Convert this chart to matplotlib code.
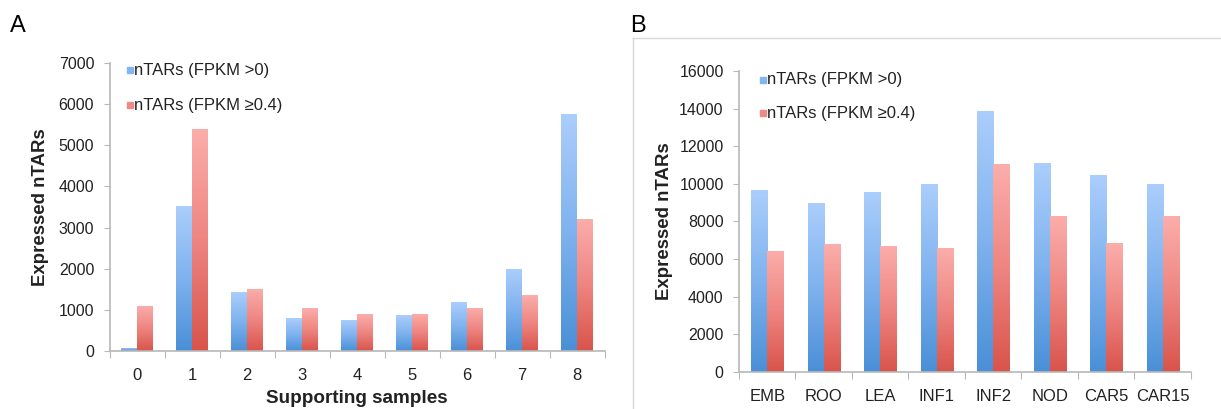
import matplotlib
matplotlib.use("Agg")
import matplotlib.pyplot as plt
import numpy as np
from matplotlib.colors import LinearSegmentedColormap
from matplotlib.lines import Line2D

plt.rcParams["font.family"] = ["Liberation Sans", "DejaVu Sans"]

# Panel A: expressed nTARs by number of supporting samples
samples = ["0", "1", "2", "3", "4", "5", "6", "7", "8"]
a_fpkm_gt0 = [80, 3520, 1440, 800, 760, 870, 1180, 2000, 5760]
a_fpkm_ge04 = [1100, 5400, 1510, 1040, 890, 900, 1050, 1350, 3220]

# Panel B: expressed nTARs per tissue
tissues = ["EMB", "ROO", "LEA", "INF1", "INF2", "NOD", "CAR5", "CAR15"]
b_fpkm_gt0 = [9650, 8980, 9580, 10000, 13850, 11100, 10450, 9980]
b_fpkm_ge04 = [6450, 6800, 6700, 6600, 11050, 8300, 6850, 8280]

series_labels = ["nTARs (FPKM >0)", "nTARs (FPKM \u22650.4)"]

BLUE = LinearSegmentedColormap.from_list("blue", ["#4a8fd7", "#7fb2ee", "#abcefc"])
RED = LinearSegmentedColormap.from_list("red", ["#d8544b", "#ee8581", "#fbaeab"])
AXIS_GREY = "#b8b8b8"
TEXT = "#222222"


def gradient_bars(ax, x, heights, width, cmap):
    bars = ax.bar(x, heights, width, color=cmap(0.5), linewidth=0)
    grad = np.linspace(0, 1, 256).reshape(-1, 1)
    for bar in bars:
        x0, w, h = bar.get_x(), bar.get_width(), bar.get_height()
        im = ax.imshow(grad, cmap=cmap, origin="lower", aspect="auto",
                       extent=[x0, x0 + w, 0, h], zorder=bar.get_zorder(),
                       interpolation="bilinear")
        im.set_clip_path(bar)
        bar.set_alpha(0)
    return bars


def grouped_panel(ax, cats, s1, s2, ymax, ystep, leg_xy, leg_dy):
    n = len(cats)
    x = np.arange(n)
    w = 0.285
    gradient_bars(ax, x - w / 2, s1, w, BLUE)
    gradient_bars(ax, x + w / 2, s2, w, RED)
    ax.set_xlim(-0.5, n - 0.5)
    ax.set_ylim(0, ymax)
    ax.set_yticks(np.arange(0, ymax + 1, ystep))

    # category ticks sit between groups, labels at group centres
    ax.set_xticks(np.arange(-0.5, n, 1.0))
    ax.set_xticklabels([])
    ax.set_xticks(x, minor=True)
    ax.set_xticklabels(cats, minor=True)
    ax.tick_params(axis="x", which="major", length=5, color=AXIS_GREY, direction="out")
    ax.tick_params(axis="x", which="minor", length=0, pad=12, labelsize=12, labelcolor=TEXT)
    ax.tick_params(axis="y", length=4, color=AXIS_GREY, pad=7, labelsize=11.5, labelcolor=TEXT)

    for side in ("top", "right"):
        ax.spines[side].set_visible(False)
    for side in ("left", "bottom"):
        ax.spines[side].set_color(AXIS_GREY)
        ax.spines[side].set_linewidth(1.2)

    ax.set_ylabel("Expressed nTARs", fontsize=13.4, fontweight="bold", color=TEXT)

    # legend drawn as small squares with text
    lx, ly = leg_xy
    for i, (lab, cmap) in enumerate(zip(series_labels, (BLUE, RED))):
        yy = ly - i * leg_dy
        ax.plot([lx], [yy], marker="s", markersize=5, color=cmap(0.55),
                transform=ax.transAxes, clip_on=False)
        ax.text(lx + 0.009, yy, lab, transform=ax.transAxes, fontsize=12,
                va="center", ha="left", color=TEXT)


fig = plt.figure(figsize=(12.21, 4.09), dpi=100)

ax_a = fig.add_axes([0.0897, 0.1418, 0.4054, 0.704])
grouped_panel(ax_a, samples, a_fpkm_gt0, a_fpkm_ge04, 7000, 1000,
              (0.041, 0.975), 0.121)
ax_a.yaxis.set_label_coords(-0.122, 0.5)
ax_a.set_xlabel("Supporting samples", fontsize=13.6, fontweight="bold", color=TEXT)
ax_a.xaxis.set_label_coords(0.5, -0.135)

ax_b = fig.add_axes([0.6052, 0.0905, 0.3702, 0.736])
grouped_panel(ax_b, tissues, b_fpkm_gt0, b_fpkm_ge04, 16000, 2000,
              (0.053, 0.97), 0.11)
ax_b.yaxis.set_label_coords(-0.146, 0.5)

# thin frame around panel B
fx, fy = 633 / 1221, 1 - 38 / 409
fig.add_artist(Line2D([fx, 1], [fy, fy], color="#d9d9d9", lw=1, transform=fig.transFigure))
fig.add_artist(Line2D([fx, fx], [0, fy], color="#d9d9d9", lw=1, transform=fig.transFigure))

fig.text(10 / 1221, 1 - 32 / 409, "A", fontsize=17, va="baseline", ha="left")
fig.text(630 / 1221, 1 - 32 / 409, "B", fontsize=17, va="baseline", ha="left")

fig.savefig("out.png", dpi=100)
